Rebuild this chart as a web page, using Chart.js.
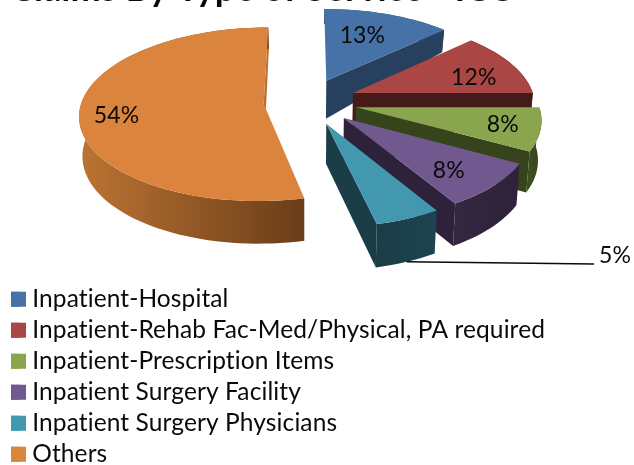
<!DOCTYPE html>
<html><head><meta charset="utf-8">
<style>html,body{margin:0;padding:0;background:#fff}canvas{display:block}</style>
<script src="https://cdn.jsdelivr.net/npm/chart.js@4"></script>
</head><body>
<div style="width:634px;height:465px"><canvas id="c" width="634" height="465"></canvas></div>
<script>
const categories = ['Inpatient-Hospital','Inpatient-Rehab Fac-Med/Physical, PA required','Inpatient-Prescription Items','Inpatient Surgery Facility','Inpatient Surgery Physicians','Others'];
const shareValues = [13,12,8,8.4,5,53.6];
const chartTitle = 'Claims By Type of Service - ICU';
// styling
const topColors = ['#4672A8','#AA4643','#89A54E','#71588F','#4198AF','#DB843D'];
const wallColors = ['#284060','#451A18','#36441C','#2D2239','#1B3D47','#B87030'];
const rimFrom = ['#2E4A6E','#451A18','#3E4E20','#33273F','#1B3D47','#BC7433'];
const rimTo = ['#284060','#451A18','#36441C','#2D2239','#1D4450','#6A3D18'];
const explode = [50,50,50,50,50,43.5];
const labelFrac = [.65,.72,.8,.75,null,.8];
const labelTurn = [-3,6,0,3,0,-3];
// projection of the pie plane
const CX=307, CY=101.5, RX=182, RY=85, PERSP=.12;
const proj=(u,v)=>{const w=1-PERSP*v;return [CX+RX*u/w,CY+RY*v/w];};
const depth=v=>v>-.25?39+3.5*v:38+23*(v+.25);
const base=(u,v)=>{const p=proj(u,v);return [CX+(p[0]-CX)*.985,p[1]+depth(v)];};

const threeD={
  id:'threeD',
  afterLayout(chart){ chart.titleBlock.left=10; },
  beforeDraw(chart){ chart.ctx.letterSpacing='0.11px'; },
  beforeDatasetsDraw(chart){
    const ctx=chart.ctx, arcs=chart.getDatasetMeta(0).data;
    const geo=arcs.map((a,i)=>{
      const s=a.startAngle+Math.PI/2,e=a.endAngle+Math.PI/2,m=(s+e)/2,off=a.options.offset/RX;
      const ou=off*Math.sin(m),ov=-off*Math.cos(m);
      const pt=(t,f=1)=>[f*Math.sin(t)+ou,-f*Math.cos(t)+ov];
      return {s,e,m,ou,ov,pt};
    });
    const poly=(pts,fill)=>{ctx.beginPath();pts.forEach((p,i)=>i?ctx.lineTo(p[0],p[1]):ctx.moveTo(p[0],p[1]));ctx.closePath();ctx.fillStyle=fill;ctx.fill();};
    ctx.save();
    arcs.forEach((a,i)=>{
      const g=geo[i],n=Math.max(6,Math.ceil((g.e-g.s)/.04));
      const rim=[];for(let k=0;k<=n;k++){rim.push(g.pt(g.s+(g.e-g.s)*k/n));}
      const end=g.pt(g.e),apex=[g.ou,g.ov];
      poly([proj(...apex),proj(...end),base(...end),base(...apex)],wallColors[i]);
      const xs=rim.map(p=>proj(...p)[0]);
      const grad=ctx.createLinearGradient(Math.min(...xs),0,Math.max(...xs),0);
      grad.addColorStop(0,rimFrom[i]);grad.addColorStop(1,rimTo[i]);
      poly([...rim.map(p=>proj(...p)),...rim.slice().reverse().map(p=>base(...p))],grad);
      poly([proj(...apex),...rim.map(p=>proj(...p))],a.options.backgroundColor);
    });
    ctx.fillStyle='#0A0A0A';ctx.textAlign='center';ctx.textBaseline='middle';ctx.font='23px Lato';
    arcs.forEach((a,i)=>{
      const txt=Math.round(shareValues[i])+'%',g=geo[i];
      if(labelFrac[i]===null){
        const p=base(...g.pt(g.m));
        ctx.beginPath();ctx.moveTo(p[0],p[1]);ctx.lineTo(594,264);ctx.lineWidth=1.5;ctx.strokeStyle='#0A0A0A';ctx.stroke();
        ctx.fillText(txt,615,256);
      }else{
        const p=proj(...g.pt(g.m+labelTurn[i]*Math.PI/180,labelFrac[i]));
        ctx.fillText(txt,p[0],p[1]);
      }
    });
    ctx.restore();
    return false;
  },
  // widen the legend swatches without widening the gap to the text
  afterDraw(chart){
    const ctx=chart.ctx,lg=chart.legend;
    ctx.save();
    lg.legendHitBoxes.forEach((b,i)=>{
      ctx.fillStyle=topColors[i];
      ctx.fillRect(b.left,b.top+(b.height-15)/2,15,15);
    });
    ctx.restore();
  }
};

new Chart(document.getElementById('c'),{
  type:'pie',
  data:{labels:categories,datasets:[{data:shareValues,backgroundColor:topColors,offset:explode,borderWidth:0}]},
  plugins:[threeD],
  options:{
    responsive:false,animation:false,
    layout:{padding:{left:4.5,bottom:-8}},
    plugins:{
      tooltip:{enabled:false},
      title:{display:true,text:chartTitle,color:'#0A0A0A',align:'start',font:{family:'Lato',size:36,weight:'bold',lineHeight:1},padding:{top:-29,bottom:0}},
      legend:{position:'left',align:'end',maxWidth:600,labels:{color:'#0A0A0A',boxWidth:9,boxHeight:15,padding:6.5,font:{family:'Lato',size:24.5}}}
    }
  }
});
</script>
</body></html>
